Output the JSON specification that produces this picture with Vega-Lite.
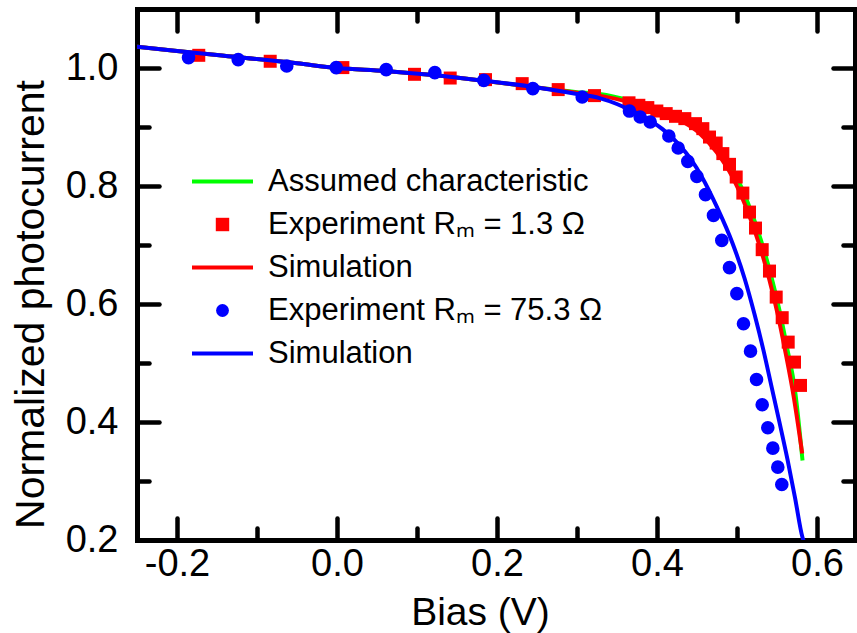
{
  "$schema": "https://vega.github.io/schema/vega-lite/v6.json",
  "width": 718,
  "height": 531,
  "autosize": {"type": "none"},
  "padding": {"left": 137, "top": 9, "right": 2, "bottom": 93},
  "background": "white",
  "config": {
    "view": {"stroke": null},
    "font": "Liberation Sans",
    "axis": {
      "domainColor": "black", "domainWidth": 5, "domainCap": "square",
      "tickColor": "black", "tickWidth": 4.5, "tickCap": "round",
      "grid": false,
      "labelFont": "Liberation Sans", "labelFontSize": 38, "labelColor": "black",
      "labelOverlap": false, "labelFlush": false,
      "titleFont": "Liberation Sans", "titleFontSize": 39, "titleFontWeight": "normal", "titleColor": "black"
    }
  },
  "datasets": {
    "lines": [
      {"s": "g", "V": -0.25, "I": 1.036}, {"s": "g", "V": -0.15, "I": 1.022}, {"s": "g", "V": -0.05, "I": 1.008}, {"s": "g", "V": 0.0, "I": 1.0},
      {"s": "g", "V": 0.06, "I": 0.995}, {"s": "g", "V": 0.12, "I": 0.988}, {"s": "g", "V": 0.18, "I": 0.979}, {"s": "g", "V": 0.25, "I": 0.967},
      {"s": "g", "V": 0.3, "I": 0.959}, {"s": "g", "V": 0.3281, "I": 0.9558}, {"s": "g", "V": 0.3694, "I": 0.9439}, {"s": "g", "V": 0.4119, "I": 0.9261},
      {"s": "g", "V": 0.4319, "I": 0.9142}, {"s": "g", "V": 0.4531, "I": 0.8956}, {"s": "g", "V": 0.4762, "I": 0.8642}, {"s": "g", "V": 0.4963, "I": 0.8234},
      {"s": "g", "V": 0.5138, "I": 0.7709}, {"s": "g", "V": 0.53, "I": 0.7081}, {"s": "g", "V": 0.5425, "I": 0.6487}, {"s": "g", "V": 0.5525, "I": 0.5927},
      {"s": "g", "V": 0.5625, "I": 0.5265}, {"s": "g", "V": 0.5725, "I": 0.4536}, {"s": "g", "V": 0.5819, "I": 0.3348},

      {"s": "r", "V": -0.25, "I": 1.036}, {"s": "r", "V": -0.15, "I": 1.022}, {"s": "r", "V": -0.05, "I": 1.008}, {"s": "r", "V": 0.0, "I": 1.0},
      {"s": "r", "V": 0.06, "I": 0.995}, {"s": "r", "V": 0.12, "I": 0.988}, {"s": "r", "V": 0.18, "I": 0.979}, {"s": "r", "V": 0.25, "I": 0.967},
      {"s": "r", "V": 0.3, "I": 0.958}, {"s": "r", "V": 0.3281, "I": 0.9532}, {"s": "r", "V": 0.3694, "I": 0.9405}, {"s": "r", "V": 0.4119, "I": 0.9219},
      {"s": "r", "V": 0.4319, "I": 0.9091}, {"s": "r", "V": 0.4531, "I": 0.8896}, {"s": "r", "V": 0.4744, "I": 0.8574}, {"s": "r", "V": 0.4944, "I": 0.815},
      {"s": "r", "V": 0.5119, "I": 0.7624}, {"s": "r", "V": 0.5281, "I": 0.6996}, {"s": "r", "V": 0.5406, "I": 0.6402}, {"s": "r", "V": 0.5506, "I": 0.5842},
      {"s": "r", "V": 0.5606, "I": 0.5181}, {"s": "r", "V": 0.5706, "I": 0.4451}, {"s": "r", "V": 0.5815, "I": 0.3467},

      {"s": "b", "V": -0.25, "I": 1.036}, {"s": "b", "V": -0.15, "I": 1.022}, {"s": "b", "V": -0.05, "I": 1.008}, {"s": "b", "V": 0.0, "I": 1.0},
      {"s": "b", "V": 0.06, "I": 0.995}, {"s": "b", "V": 0.12, "I": 0.988}, {"s": "b", "V": 0.18, "I": 0.979}, {"s": "b", "V": 0.25, "I": 0.967},
      {"s": "b", "V": 0.3, "I": 0.956}, {"s": "b", "V": 0.3281, "I": 0.949}, {"s": "b", "V": 0.3744, "I": 0.9235}, {"s": "b", "V": 0.4069, "I": 0.8964},
      {"s": "b", "V": 0.4281, "I": 0.8693}, {"s": "b", "V": 0.4431, "I": 0.8438}, {"s": "b", "V": 0.4556, "I": 0.8167}, {"s": "b", "V": 0.4756, "I": 0.7624},
      {"s": "b", "V": 0.4944, "I": 0.703}, {"s": "b", "V": 0.5094, "I": 0.6436}, {"s": "b", "V": 0.5219, "I": 0.5825}, {"s": "b", "V": 0.5331, "I": 0.5214},
      {"s": "b", "V": 0.5431, "I": 0.4604}, {"s": "b", "V": 0.5531, "I": 0.3993}, {"s": "b", "V": 0.5631, "I": 0.3365}, {"s": "b", "V": 0.5725, "I": 0.272},
      {"s": "b", "V": 0.5819, "I": 0.2042}, {"s": "b", "V": 0.5856, "I": 0.1906}
    ],
    "points": [
      {"s": "rs", "V": -0.1728, "I": 1.0215}, {"s": "rs", "V": -0.0835, "I": 1.0114}, {"s": "rs", "V": 0.0073, "I": 1.0007}, {"s": "rs", "V": 0.0969, "I": 0.9893},
      {"s": "rs", "V": 0.1415, "I": 0.983}, {"s": "rs", "V": 0.1856, "I": 0.9803}, {"s": "rs", "V": 0.2315, "I": 0.9735}, {"s": "rs", "V": 0.2765, "I": 0.9634},
      {"s": "rs", "V": 0.3219, "I": 0.9532}, {"s": "rs", "V": 0.365, "I": 0.941}, {"s": "rs", "V": 0.3773, "I": 0.9368}, {"s": "rs", "V": 0.3885, "I": 0.9329},
      {"s": "rs", "V": 0.3998, "I": 0.9271}, {"s": "rs", "V": 0.4115, "I": 0.9227}, {"s": "rs", "V": 0.4231, "I": 0.9181}, {"s": "rs", "V": 0.4348, "I": 0.9142},
      {"s": "rs", "V": 0.4481, "I": 0.9057}, {"s": "rs", "V": 0.4573, "I": 0.8972}, {"s": "rs", "V": 0.4656, "I": 0.883}, {"s": "rs", "V": 0.474, "I": 0.8728},
      {"s": "rs", "V": 0.4823, "I": 0.8549}, {"s": "rs", "V": 0.4906, "I": 0.8367}, {"s": "rs", "V": 0.499, "I": 0.8152}, {"s": "rs", "V": 0.5073, "I": 0.788},
      {"s": "rs", "V": 0.5156, "I": 0.7558}, {"s": "rs", "V": 0.5231, "I": 0.7287}, {"s": "rs", "V": 0.5315, "I": 0.6921}, {"s": "rs", "V": 0.5406, "I": 0.6558},
      {"s": "rs", "V": 0.549, "I": 0.6117}, {"s": "rs", "V": 0.5565, "I": 0.5768}, {"s": "rs", "V": 0.564, "I": 0.5354}, {"s": "rs", "V": 0.5719, "I": 0.5015},
      {"s": "rs", "V": 0.5794, "I": 0.462},

      {"s": "bs", "V": -0.1856, "I": 1.0176}, {"s": "bs", "V": -0.1235, "I": 1.0142}, {"s": "bs", "V": -0.0628, "I": 1.0034}, {"s": "bs", "V": -0.001, "I": 1.0007},
      {"s": "bs", "V": 0.0615, "I": 0.9973}, {"s": "bs", "V": 0.1223, "I": 0.9922}, {"s": "bs", "V": 0.1835, "I": 0.9791}, {"s": "bs", "V": 0.2448, "I": 0.9651},
      {"s": "bs", "V": 0.3065, "I": 0.9508}, {"s": "bs", "V": 0.3656, "I": 0.927}, {"s": "bs", "V": 0.379, "I": 0.9169}, {"s": "bs", "V": 0.3915, "I": 0.9084},
      {"s": "bs", "V": 0.4148, "I": 0.8847}, {"s": "bs", "V": 0.4265, "I": 0.8643}, {"s": "bs", "V": 0.4385, "I": 0.8418}, {"s": "bs", "V": 0.4498, "I": 0.8164},
      {"s": "bs", "V": 0.4606, "I": 0.7853}, {"s": "bs", "V": 0.4706, "I": 0.7502}, {"s": "bs", "V": 0.481, "I": 0.7078}, {"s": "bs", "V": 0.4906, "I": 0.6616},
      {"s": "bs", "V": 0.4998, "I": 0.6175}, {"s": "bs", "V": 0.5081, "I": 0.5666}, {"s": "bs", "V": 0.5169, "I": 0.5201}, {"s": "bs", "V": 0.5244, "I": 0.4721},
      {"s": "bs", "V": 0.5315, "I": 0.4293}, {"s": "bs", "V": 0.5385, "I": 0.3902}, {"s": "bs", "V": 0.5448, "I": 0.3557}, {"s": "bs", "V": 0.551, "I": 0.3235},
      {"s": "bs", "V": 0.556, "I": 0.2941}
    ]
  },
  "layer": [
    {
      "layer": [
        {
          "data": {"name": "lines"},
          "transform": [{"filter": "datum.s == 'g'"}],
          "mark": {"type": "line", "strokeWidth": 4, "interpolate": "monotone", "clip": true},
          "encoding": {
            "x": {"field": "V", "type": "quantitative",
              "scale": {"domain": [-0.25, 0.6475], "nice": false, "zero": false},
              "axis": {"orient": "bottom", "title": "Bias (V)",
                "values": [-0.2, -0.1, 0, 0.1, 0.2, 0.3, 0.4, 0.5, 0.6],
                "tickSize": {"condition": {"test": "round(datum.value*10) % 2 == 0", "value": -22}, "value": -12},
                "labelPadding": 27,
                "labelExpr": "round(datum.value*10) % 2 == 0 ? (datum.value < 0 ? '-' : '') + format(abs(datum.value), '.1f') : ''",
                "titlePadding": 0, "titleX": 343, "titleAlign": "center"}},
            "y": {"field": "I", "type": "quantitative",
              "scale": {"domain": [0.2, 1.1], "nice": false, "zero": false},
              "axis": {"orient": "left", "title": "Normalized photocurrent",
                "values": [0.2, 0.3, 0.4, 0.5, 0.6, 0.7, 0.8, 0.9, 1.0],
                "tickSize": {"condition": {"test": "round(datum.value*10) % 2 == 0", "value": -22}, "value": -12},
                "labelPadding": 41,
                "labelExpr": "round(datum.value*10) % 2 == 0 ? format(datum.value, '.1f') : ''",
                "titleFontSize": 41,
                "titlePadding": 13, "titleY": 295, "titleAlign": "center"}},
            "color": {"field": "s", "type": "nominal",
              "scale": {"domain": ["g", "rs", "r", "bs", "b"], "range": ["#00ff00", "#ff0000", "#ff0000", "#0000ff", "#0000ff"]},
              "legend": {"orient": "none", "legendX": 70, "legendY": 157, "title": null,
                "padding": 0, "labelFont": "Liberation Sans", "labelFontSize": 31, "labelColor": "black",
                "labelLimit": 0, "symbolSize": 144, "labelOffset": 30, "rowPadding": 11,
                "labelExpr": "datum.value == 'g' ? 'Assumed characteristic' : datum.value == 'rs' ? 'Experiment Rₘ = 1.3 Ω' : datum.value == 'bs' ? 'Experiment Rₘ = 75.3 Ω' : 'Simulation'",
                "encode": {"symbols": {"update": {
                  "shape": {"signal": "datum.value == 'rs' ? 'square' : datum.value == 'bs' ? 'circle' : 'stroke'"},
                  "size": {"signal": "datum.value == 'rs' ? 180 : datum.value == 'bs' ? 165 : 3721"},
                  "fill": {"signal": "datum.value == 'rs' || datum.value == 'bs' ? scale('color', datum.value) : 'transparent'"},
                  "stroke": {"signal": "scale('color', datum.value)"},
                  "strokeWidth": {"signal": "datum.value == 'rs' || datum.value == 'bs' ? 0 : 4"},
                  "opacity": {"value": 1}
                }}}}}
          }
        },
        {
          "data": {"name": "lines"},
          "transform": [{"filter": "datum.s == 'r'"}],
          "mark": {"type": "line", "strokeWidth": 4, "interpolate": "monotone", "clip": true},
          "encoding": {
            "x": {"field": "V", "type": "quantitative"},
            "y": {"field": "I", "type": "quantitative"},
            "color": {"field": "s", "type": "nominal"}
          }
        },
        {
          "data": {"name": "points"},
          "transform": [{"filter": "datum.s == 'rs'"}],
          "mark": {"type": "point", "shape": "square", "filled": true, "size": 169, "opacity": 1},
          "encoding": {
            "x": {"field": "V", "type": "quantitative"},
            "y": {"field": "I", "type": "quantitative"},
            "color": {"field": "s", "type": "nominal"}
          }
        },
        {
          "data": {"name": "lines"},
          "transform": [{"filter": "datum.s == 'b'"}],
          "mark": {"type": "line", "strokeWidth": 4, "interpolate": "monotone", "clip": true},
          "encoding": {
            "x": {"field": "V", "type": "quantitative"},
            "y": {"field": "I", "type": "quantitative"},
            "color": {"field": "s", "type": "nominal"}
          }
        },
        {
          "data": {"name": "points"},
          "transform": [{"filter": "datum.s == 'bs'"}],
          "mark": {"type": "point", "shape": "circle", "filled": true, "size": 185, "opacity": 1},
          "encoding": {
            "x": {"field": "V", "type": "quantitative"},
            "y": {"field": "I", "type": "quantitative"},
            "color": {"field": "s", "type": "nominal"}
          }
        }
      ]
    },
    {
      "data": {"name": "points"},
      "mark": {"type": "point", "opacity": 0},
      "encoding": {
        "x": {"field": "V", "type": "quantitative",
          "axis": {"orient": "top", "title": null, "labels": false,
            "values": [-0.2, -0.1, 0, 0.1, 0.2, 0.3, 0.4, 0.5, 0.6],
            "tickSize": {"condition": {"test": "round(datum.value*10) % 2 == 0", "value": -22}, "value": -12}}},
        "y": {"field": "I", "type": "quantitative",
          "axis": {"orient": "right", "title": null, "labels": false,
            "values": [0.2, 0.3, 0.4, 0.5, 0.6, 0.7, 0.8, 0.9, 1.0],
            "tickSize": {"condition": {"test": "round(datum.value*10) % 2 == 0", "value": -22}, "value": -12}}}
      }
    }
  ],
  "resolve": {"axis": {"x": "independent", "y": "independent"}}
}
